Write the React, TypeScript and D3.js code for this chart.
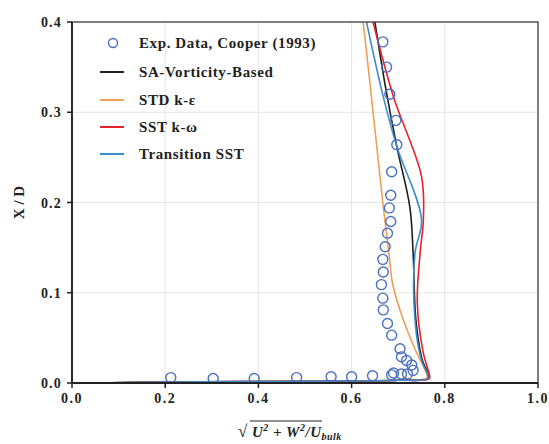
import React from "react";
import * as d3 from "d3";

const xTicks = [0.0, 0.2, 0.4, 0.6, 0.8, 1.0];
const yTicks = [0.0, 0.1, 0.2, 0.3, 0.4];

const expX = [0.667, 0.675, 0.682, 0.695, 0.697, 0.686, 0.684, 0.681, 0.684, 0.677, 0.672, 0.667, 0.668, 0.664, 0.667, 0.668, 0.677, 0.686, 0.704, 0.707, 0.718, 0.729, 0.732, 0.72, 0.69, 0.212, 0.303, 0.391, 0.482, 0.556, 0.6, 0.645, 0.686, 0.707];
const expY = [0.378, 0.35, 0.32, 0.291, 0.264, 0.234, 0.208, 0.194, 0.179, 0.166, 0.151, 0.137, 0.123, 0.109, 0.094, 0.081, 0.066, 0.053, 0.038, 0.029, 0.025, 0.02, 0.014, 0.01, 0.011, 0.006, 0.005, 0.005, 0.006, 0.007, 0.007, 0.008, 0.009, 0.01];

const saX = [0.65, 0.672, 0.697, 0.725, 0.732, 0.738, 0.752, 0.764, 0.765, 0.7, 0.5, 0.2, 0.05];
const saY = [0.4, 0.33, 0.262, 0.195, 0.144, 0.07, 0.025, 0.011, 0.005, 0.003, 0.002, 0.001, 0.0];

const stdX = [0.625, 0.648, 0.668, 0.681, 0.688, 0.711, 0.74, 0.758, 0.762, 0.7, 0.5, 0.2, 0.05];
const stdY = [0.4, 0.291, 0.195, 0.14, 0.11, 0.07, 0.033, 0.014, 0.006, 0.003, 0.002, 0.001, 0.0];

const sstX = [0.646, 0.69, 0.75, 0.754, 0.747, 0.741, 0.754, 0.766, 0.767, 0.7, 0.5, 0.2, 0.05];
const sstY = [0.4, 0.317, 0.229, 0.181, 0.144, 0.089, 0.033, 0.011, 0.005, 0.003, 0.002, 0.001, 0.0];

const trX = [0.632, 0.668, 0.697, 0.75, 0.736, 0.736, 0.75, 0.762, 0.763, 0.7, 0.5, 0.2, 0.05];
const trY = [0.4, 0.317, 0.262, 0.181, 0.144, 0.07, 0.025, 0.011, 0.005, 0.003, 0.002, 0.001, 0.0];

const seriesNames = ["SA-Vorticity-Based", "STD k-\u03b5", "SST k-\u03c9", "Transition SST"];
const seriesColors = ["#1e1e1e", "#f0a055", "#e8222c", "#3d8fd0"];

const W = 549;
const H = 444;
const L = 72, R = 538, T = 22, B = 383;
const FONT = "'Liberation Serif', 'Times New Roman', serif";

export default function App() {
  const x = d3.scaleLinear().domain([0, 1]).range([L, R]);
  const y = d3.scaleLinear().domain([0, 0.4]).range([B, T]);
  const line = d3
    .line<[number, number]>()
    .x((d) => x(d[0]))
    .y((d) => y(d[1]))
    .curve(d3.curveCatmullRom.alpha(0.5));

  const series = [
    [saX, saY],
    [stdX, stdY],
    [sstX, sstY],
    [trX, trY],
  ];
  const drawOrder = [1, 0, 2, 3];

  const legendRows = [43, 72, 100, 127, 154];

  return (
    <svg width={W} height={H} style={{ position: "absolute", left: 0, top: 0, background: "#fff" }} fontFamily={FONT}>
      <defs>
        <clipPath id="plotclip">
          <rect x={L} y={T} width={R - L} height={B - T} />
        </clipPath>
      </defs>
      {xTicks.map((t) => (
        <line key={"gx" + t} x1={x(t)} x2={x(t)} y1={T} y2={B} stroke="#e4e4e4" strokeWidth={1} />
      ))}
      {yTicks.map((t) => (
        <line key={"gy" + t} x1={L} x2={R} y1={y(t)} y2={y(t)} stroke="#e4e4e4" strokeWidth={1} />
      ))}
      <g clipPath="url(#plotclip)">
        {drawOrder.map((i) => {
          const [xs, ys] = series[i];
          const pts: [number, number][] = xs.map((v, k) => [v, ys[k]]);
          return <path key={"s" + i} d={line(pts) || ""} fill="none" stroke={seriesColors[i]} strokeWidth={1.6} />;
        })}
        {expX.map((v, k) => (
          <circle key={"c" + k} cx={x(v)} cy={y(expY[k])} r={5} fill="none" stroke="#4a70c0" strokeWidth={1.4} />
        ))}
      </g>
      <rect x={L} y={T} width={R - L} height={B - T} fill="none" stroke="#333" strokeWidth={1.2} />
      <line x1={L} x2={L} y1={T} y2={B} stroke="#222" strokeWidth={1.8} />
      <line x1={L} x2={R} y1={B} y2={B} stroke="#222" strokeWidth={1.8} />
      {xTicks.map((t) => (
        <g key={"tx" + t}>
          <line x1={x(t)} x2={x(t)} y1={B} y2={B + 5} stroke="#222" strokeWidth={1.5} />
          <text x={x(t)} y={B + 20} textAnchor="middle" fontSize={14} letterSpacing={1.5} fontWeight="bold" fill="#222">
            {t.toFixed(1)}
          </text>
        </g>
      ))}
      {yTicks.map((t) => (
        <g key={"ty" + t}>
          <line x1={L - 5} x2={L} y1={y(t)} y2={y(t)} stroke="#222" strokeWidth={1.5} />
          <text x={L - 10} y={y(t) + 5} textAnchor="end" fontSize={14} letterSpacing={1.2} fontWeight="bold" fill="#222">
            {t.toFixed(1)}
          </text>
        </g>
      ))}
      <text transform={`translate(24, ${(T + B) / 2}) rotate(-90)`} textAnchor="middle" fontSize={15} fontWeight="bold" fill="#222">
        X / D
      </text>
      <g fill="#222" fontWeight="bold" fontStyle="italic">
        <text x={238} y={437} fontSize={17} fontStyle="normal" fontWeight="normal">{"\u221a"}</text>
        <line x1={250} x2={322} y1={421} y2={421} stroke="#222" strokeWidth={1} />
        <text x={252} y={437} fontSize={15} letterSpacing={0.5}>
          U<tspan fontSize={10} dy={-6}>2</tspan>
          <tspan dy={6}> + W</tspan>
          <tspan fontSize={10} dy={-6}>2</tspan>
          <tspan dy={6}>/U</tspan>
          <tspan fontSize={10} dy={3}>bulk</tspan>
        </text>
      </g>
      <circle cx={113} cy={legendRows[0]} r={4.5} fill="none" stroke="#4a70c0" strokeWidth={1.4} />
      <text x={139} y={legendRows[0] + 5} fontSize={15} letterSpacing={0.6} fontWeight="bold" fill="#222">
        Exp. Data, Cooper (1993)
      </text>
      {seriesNames.map((name, i) => (
        <g key={"lg" + i}>
          <line x1={100} x2={124} y1={legendRows[i + 1]} y2={legendRows[i + 1]} stroke={seriesColors[i]} strokeWidth={2} />
          <text x={139} y={legendRows[i + 1] + 5} fontSize={15} letterSpacing={0.6} fontWeight="bold" fill="#222">
            {name}
          </text>
        </g>
      ))}
    </svg>
  );
}
